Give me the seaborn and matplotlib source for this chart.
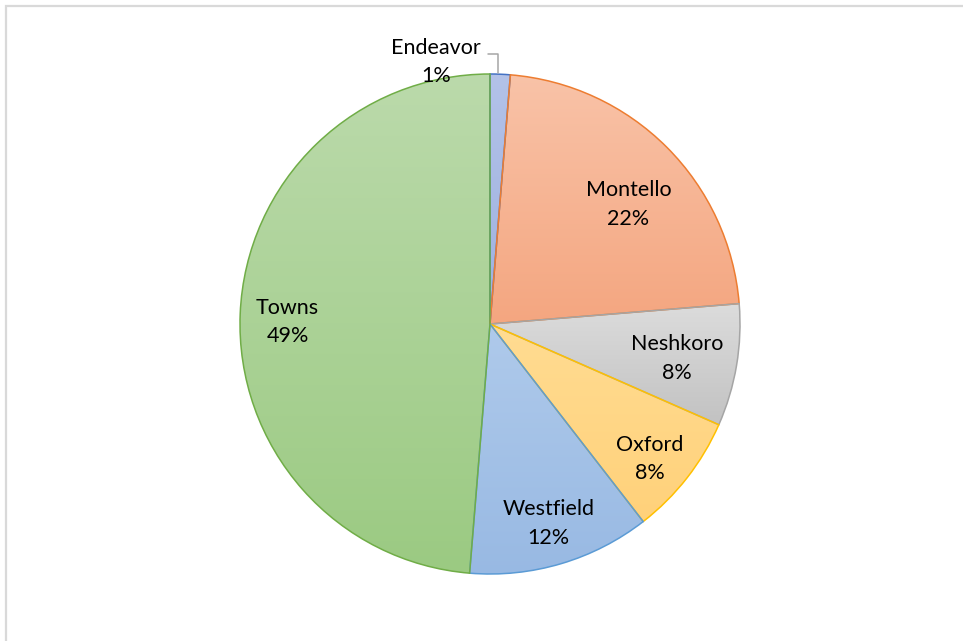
import numpy as np
import matplotlib
matplotlib.use("Agg")
import matplotlib.pyplot as plt
import seaborn as sns
from matplotlib.colors import to_rgb
from matplotlib.patches import Rectangle

sns.set_theme(style="white")
plt.rcParams["font.family"] = ["Lato", "DejaVu Sans"]

# Share of each area
areas = ["Endeavor", "Montello", "Neshkoro", "Oxford", "Westfield", "Towns"]
shares = [1.3, 22.4, 7.9, 7.9, 11.8, 48.7]

# Gradient fill (top -> bottom) and outline colour per slice
top_colors = ["#B3C2E8", "#F9C3A8", "#DCDCDC", "#FFDC92", "#AFCAEB", "#BBDAAB"]
bottom_colors = ["#9DB1E0", "#F4A680", "#C2C2C2", "#FFD17A", "#98B9E3", "#9BCA82"]
edge_colors = ["#4472C4", "#ED7D31", "#A5A5A5", "#FFC000", "#5B9BD5", "#70AD47"]

# label placement: distance from centre (fraction of radius) and angular nudge
label_dist = [None, 0.74, 0.76, 0.83, 0.82, 0.81]
label_nudge = [0, -3.5, 0, -1.5, 0, 1.0]

W, H = 963, 641
fig = plt.figure(figsize=(W / 100, H / 100), dpi=100)
ax = fig.add_axes([0, 0, 1, 1])

cx, cy, R = 490, H - 324, 250

wedges, _ = ax.pie(shares, startangle=90, counterclock=False, radius=R,
                   center=(cx, cy), frame=True,
                   wedgeprops=dict(linewidth=1.1, zorder=3))

for w, tc, bc, ec in zip(wedges, top_colors, bottom_colors, edge_colors):
    w.set_facecolor("none")
    w.set_edgecolor(ec)
    verts = w.get_patch_transform().transform(w.get_path().vertices)
    x0, y0 = verts.min(axis=0)
    x1, y1 = verts.max(axis=0)
    t = np.linspace(0, 1, 256)[:, None, None]
    grad = (1 - t) * np.array(to_rgb(tc)) + t * np.array(to_rgb(bc))
    im = ax.imshow(grad, extent=[x0, x1, y0, y1], origin="upper",
                   aspect="auto", interpolation="bilinear", zorder=2)
    im.set_clip_path(w)

ax.set_xlim(0, W)
ax.set_ylim(0, H)
ax.set_aspect("equal")
ax.axis("off")

text_kw = dict(ha="center", va="center", fontsize=15.5, linespacing=1.52,
               color="black", zorder=5)

# Data labels: name and rounded percentage
total = sum(shares)
for w, name, val, d, nudge in zip(wedges, areas, shares, label_dist, label_nudge):
    if d is None:
        continue
    mid = np.deg2rad((w.theta1 + w.theta2) / 2 + nudge)
    x = cx + d * R * np.cos(mid)
    y = cy + d * R * np.sin(mid) - 3
    ax.text(x, y, f"{name}\n{round(val / total * 100):d}%", **text_kw)

# Endeavor label outside the pie with a leader line
ax.text(cx - 54, cy + 262, f"{areas[0]}\n{round(shares[0] / total * 100):d}%",
        **text_kw)
ax.plot([cx - 2, cx + 8, cx + 8], [cy + 270, cy + 270, cy + 251],
        color="#A6A6A6", lw=1.1, zorder=4)

# Chart area border
ax.add_patch(Rectangle((6, -20), W + 20, H - 6 + 20, fill=False,
                       edgecolor="#D9D9D9", lw=1.6, clip_on=False, zorder=1))

fig.savefig("out.png", dpi=100)
